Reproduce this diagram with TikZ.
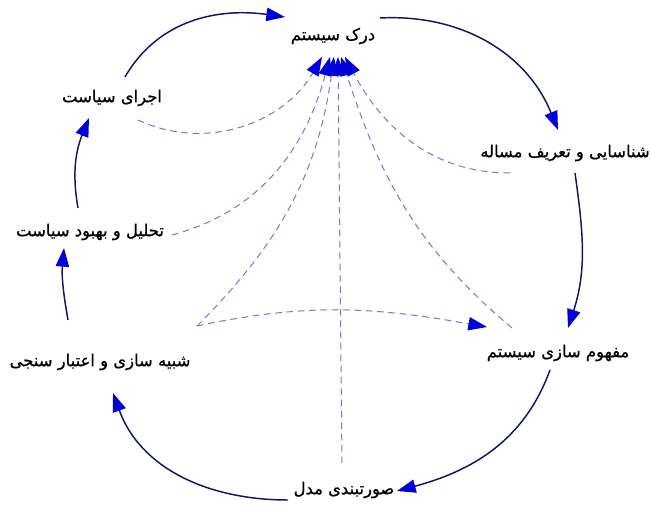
\documentclass[tikz,border=0pt]{standalone}
\usepackage{fontspec}
\newfontfamily\arabicfont[Script=Arabic, FakeBold=0.8]{DejaVu Sans}
\TeXXeTstate=1
\usetikzlibrary{arrows.meta}
\definecolor{linenavy}{RGB}{20,20,100}
\definecolor{headblue}{RGB}{0,0,220}
\definecolor{dashblue}{RGB}{120,120,195}
\begin{document}
\begin{tikzpicture}[
    x=0.75pt, y=0.75pt,
    stage/.style={font=\arabicfont\fontsize{12.3}{15}\selectfont, inner sep=2pt},
    flow/.style={draw=linenavy, line width=1.1pt, -{Triangle[length=14pt, width=10pt, color=headblue]}},
    link/.style={draw=dashblue, line width=0.75pt, dash pattern=on 5pt off 3.5pt, -{Triangle[length=14pt, width=10pt, color=headblue]}},
]
\useasboundingbox (0,0) rectangle (651,507);
% Stages of the modelling cycle
\node[stage] (A) at (333,471) {\beginR درک سیستم\endR};
\node[stage] (B) at (565,354) {\beginR شناسایی و تعریف مساله\endR};
\node[stage] (C) at (558,154) {\beginR مفهوم سازی سیستم\endR};
\node[stage] (D) at (344,17) {\beginR صورتبندی مدل\endR};
\node[stage] (E) at (100,145) {\beginR شبیه سازی و اعتبار سنجی\endR};
\node[stage] (F) at (90,275) {\beginR تحلیل و بهبود سیاست\endR};
\node[stage] (G) at (112,409) {\beginR اجرای سیاست\endR};
% Main cycle
\draw[flow] ([shift={(13,21)}]G.center) to[out=60, in=172] ([shift={(-48,19)}]A.center);
\draw[flow] ([shift={(47,18)}]A.center) to[out=3, in=112] ([shift={(-7,23)}]B.center);
\draw[flow] ([shift={(10,-20)}]B.center) to[out=-82, in=72] ([shift={(10,25)}]C.center);
\draw[flow] ([shift={(-8,-17)}]C.center) to[out=-110, in=15] ([shift={(53,-1)}]D.center);
\draw[flow] ([shift={(-56,-10)}]D.center) to[out=180, in=-70] ([shift={(13,-31)}]E.center);
\draw[flow] ([shift={(-32,42)}]E.center) to[out=100, in=-95] ([shift={(-26,-16)}]F.center);
\draw[flow] ([shift={(-12,24)}]F.center) to[out=100, in=-112] ([shift={(-23,-20)}]G.center);
% Feedback to system understanding
\draw[link] ([shift={(26,-22)}]G.center) to[out=-25, in=-120] ([shift={(-11,-21)}]A.center);
\draw[link] ([shift={(82,-3)}]F.center) to[out=15, in=-105] ([shift={(-3,-21)}]A.center);
\draw[link] ([shift={(97,36)}]E.center) to[out=45, in=-98] ([shift={(1,-21)}]A.center);
\draw[link] ([shift={(-2,27)}]D.center) -- ([shift={(5,-21)}]A.center);
\draw[link] ([shift={(-46,25)}]C.center) to[out=140, in=-72] ([shift={(8,-21)}]A.center);
\draw[link] ([shift={(-55,-20)}]B.center) to[out=180, in=-62] ([shift={(12,-21)}]A.center);
% Simulation back to conceptualisation
\draw[link] ([shift={(97,36)}]E.center) to[out=12, in=170] ([shift={(-71,26)}]C.center);
\end{tikzpicture}
\end{document}
